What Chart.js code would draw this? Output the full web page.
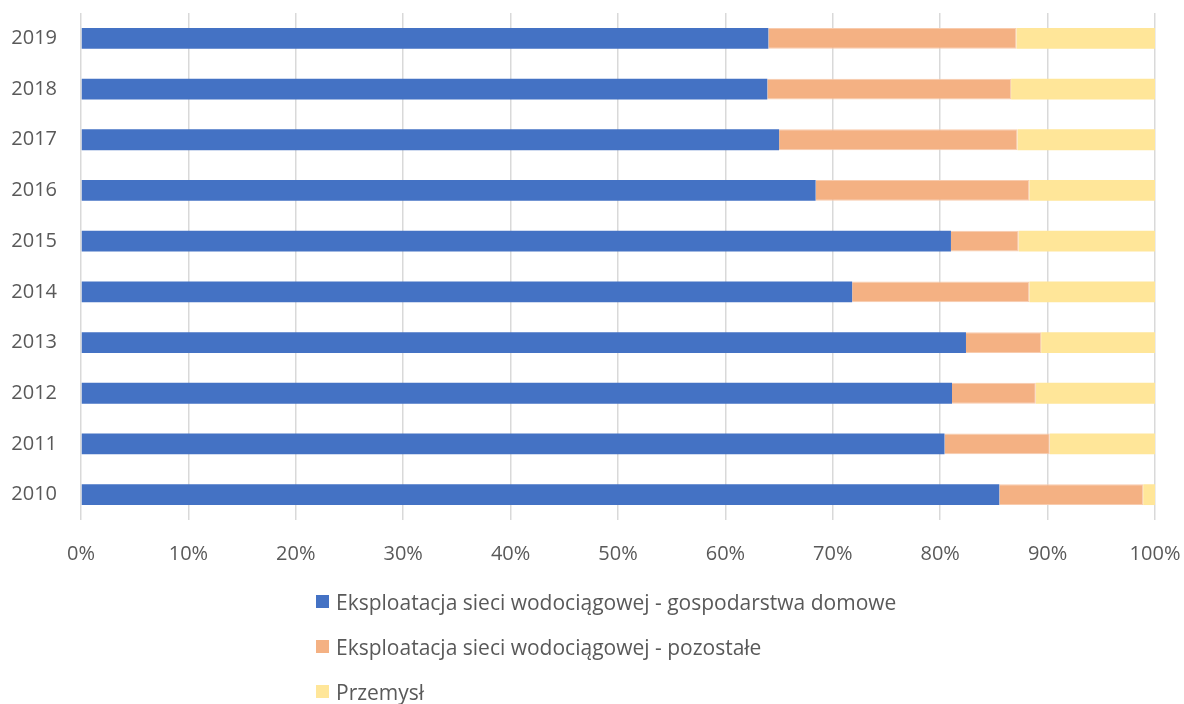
<!DOCTYPE html>
<html>
<head>
<meta charset="utf-8">
<script src="https://cdn.jsdelivr.net/npm/chart.js@4/dist/chart.umd.min.js"></script>
<style>
  html, body { margin: 0; padding: 0; background: #fff; }
  #wrap { position: relative; width: 1184px; height: 704px; overflow: hidden; }
  #legend { position: absolute; left: 316px; top: 579px; font-family: "Open Sans", sans-serif; font-size: 21px; color: #595959; }
  .item { display: flex; align-items: center; height: 45px; }
  .box { width: 13px; height: 13px; margin-right: 7px; }
</style>
</head>
<body>
<div id="wrap">
  <canvas id="c" width="1184" height="704"></canvas>
  <div id="legend"></div>
</div>
<script>
const years = ["2019","2018","2017","2016","2015","2014","2013","2012","2011","2010"];
const seriesNames = [
  "Eksploatacja sieci wodociągowej - gospodarstwa domowe",
  "Eksploatacja sieci wodociągowej - pozostałe",
  "Przemysł"
];
const households = [64.0, 63.9, 65.0, 68.4, 81.0, 71.8, 82.4, 81.1, 80.4, 85.5];
const otherNetwork = [23.1, 22.7, 22.2, 19.9, 6.3, 16.5, 7.0, 7.8, 9.8, 13.4];
const industry = [12.9, 13.4, 12.8, 11.7, 12.7, 11.7, 10.6, 11.1, 9.8, 1.1];
const xTicks = ["0%","10%","20%","30%","40%","50%","60%","70%","80%","90%","100%"];

const colors = ["#4472C4", "#F4B183", "#FFE699"];
const borders = ["#4472C4", "#F8CBAD", "#FFE699"];
const FONT = "'Open Sans', sans-serif";

const datasets = [households, otherNetwork, industry].map((d, i) => ({
  label: seriesNames[i],
  data: d,
  backgroundColor: colors[i],
  borderColor: borders[i],
  borderWidth: i === 1 ? 1 : 0,
  barPercentage: 0.41,
  categoryPercentage: 1.0
}));

new Chart(document.getElementById('c'), {
  type: 'bar',
  data: { labels: years, datasets },
  options: {
    indexAxis: 'y',
    responsive: false,
    maintainAspectRatio: false,
    animation: false,
    layout: { autoPadding: false, padding: { left: 0, right: 29, top: 13, bottom: 134 } },
    plugins: { legend: { display: false }, tooltip: { enabled: false }, title: { display: false } },
    scales: {
      x: {
        stacked: true,
        min: 0, max: 100,
        afterFit: s => { s.height = 50; s.paddingLeft = 0; s.paddingRight = 0; s.paddingTop = 0; s.paddingBottom = 0; },
        grid: { color: '#D9D9D9', lineWidth: 1.5, drawTicks: false },
        border: { display: false },
        ticks: {
          stepSize: 10,
          padding: 22,
          color: '#595959',
          font: { family: FONT, size: 20 },
          callback: (v, i) => xTicks[i]
        }
      },
      y: {
        stacked: true,
        afterFit: s => { s.width = 81; s.paddingLeft = 0; s.paddingRight = 0; s.paddingTop = 0; s.paddingBottom = 0; },
        grid: { display: false, drawTicks: false },
        border: { display: false },
        ticks: { padding: 24, color: '#595959', font: { family: FONT, size: 20 } }
      }
    }
  }
});

const leg = document.getElementById('legend');
seriesNames.forEach((n, i) => {
  const it = document.createElement('div');
  it.className = 'item';
  const b = document.createElement('div');
  b.className = 'box';
  b.style.background = colors[i];
  const t = document.createElement('span');
  t.textContent = n;
  it.appendChild(b); it.appendChild(t);
  leg.appendChild(it);
});
</script>
</body>
</html>
